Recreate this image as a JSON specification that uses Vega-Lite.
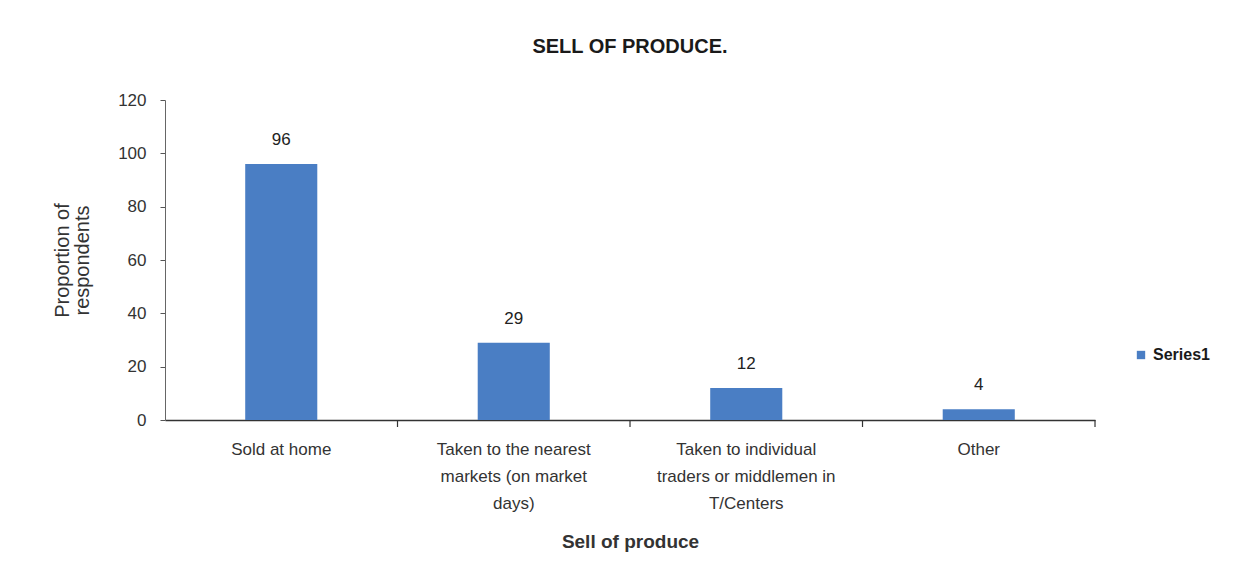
{
  "$schema": "https://vega.github.io/schema/vega-lite/v6.json",
  "autosize": {"type": "none"},
  "padding": {"left": 165, "top": 100, "right": 142, "bottom": 158},
  "width": 930,
  "height": 320,
  "background": "white",
  "config": {
    "view": {"stroke": null},
    "font": "Liberation Sans"
  },
  "title": {
    "text": "SELL OF PRODUCE.",
    "fontSize": 20,
    "fontWeight": "bold",
    "color": "#1a1a1a",
    "anchor": "middle",
    "offset": 34,
    "font": "Liberation Sans"
  },
  "data": {
    "values": [
      {"category": "Sold at home", "value": 96, "series": "Series1"},
      {"category": "Taken to the nearest markets (on market days)", "value": 29, "series": "Series1"},
      {"category": "Taken to individual traders or middlemen in T/Centers", "value": 12, "series": "Series1"},
      {"category": "Other", "value": 4, "series": "Series1"}
    ]
  },
  "encoding": {
    "x": {
      "field": "category",
      "type": "nominal",
      "sort": null,
      "scale": {"paddingInner": 0.69, "paddingOuter": 0.345},
      "axis": {
        "title": "Sell of produce",
        "titleFontSize": 19,
        "titleFontWeight": "bold",
        "titleColor": "#333333",
        "titlePadding": 21,
        "labelAngle": 0,
        "labelFontSize": 17,
        "labelColor": "#333333",
        "labelLineHeight": 27,
        "labelPadding": 21,
        "labelLimit": 300,
        "labelExpr": "datum.value == 'Taken to the nearest markets (on market days)' ? ['Taken to the nearest', 'markets (on market', 'days)'] : datum.value == 'Taken to individual traders or middlemen in T/Centers' ? ['Taken to individual', 'traders or middlemen in', 'T/Centers'] : datum.value",
        "ticks": false,
        "tickSize": 0,
        "domainColor": "#333333",
        "domainWidth": 1.5
      }
    },
    "y": {
      "field": "value",
      "type": "quantitative",
      "scale": {"domain": [0, 120]},
      "axis": {
        "title": ["Proportion of", "respondents"],
        "titleFontSize": 20,
        "titleFontWeight": "normal",
        "titleColor": "#333333",
        "titleLineHeight": 20,
        "titlePadding": 25,
        "values": [0, 20, 40, 60, 80, 100, 120],
        "labelFontSize": 17,
        "labelColor": "#333333",
        "labelPadding": 14,
        "grid": false,
        "tickSize": 5,
        "tickColor": "#555555",
        "domainColor": "#666666"
      }
    }
  },
  "layer": [
    {
      "mark": {"type": "bar", "color": "#4A7EC4"},
      "encoding": {
        "color": {
          "field": "series",
          "type": "nominal",
          "scale": {"range": ["#4A7EC4"]},
          "legend": {
            "title": null,
            "orient": "none",
            "legendX": 968,
            "legendY": 247,
            "symbolType": "square",
            "symbolSize": 70,
            "labelFontSize": 16,
            "labelFontWeight": "bold",
            "labelColor": "#1a1a1a"
          }
        }
      }
    },
    {
      "mark": {"type": "rule", "color": "#333333", "strokeWidth": 1.2, "y2Offset": 7},
      "encoding": {
        "x": {"field": "category", "type": "nominal", "sort": null, "bandPosition": 2.113},
        "y": {"datum": 0, "type": "quantitative"},
        "y2": {"datum": 0}
      }
    },
    {
      "mark": {"type": "text", "dy": -24, "fontSize": 17, "color": "#222222"},
      "encoding": {
        "text": {"field": "value", "type": "quantitative"}
      }
    }
  ]
}
